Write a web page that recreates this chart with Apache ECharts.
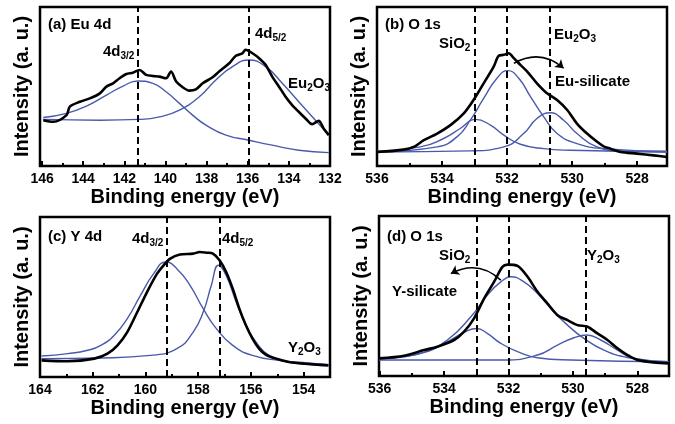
<!DOCTYPE html>
<html lang="en">
<head>
<meta charset="UTF-8" />
<title>XPS spectra</title>
<style>
  html, body { margin: 0; padding: 0; background: #fff; }
  #chart { width: 675px; height: 424px; }
</style>
</head>
<body>
<div id="chart"></div>
<script src="https://cdn.jsdelivr.net/npm/echarts@6/dist/echarts.min.js"></script>
<script>
// x ranges [min, max] (axes are reversed: high energy on the left)
var rangeA = [132, 146.1];
var rangeB = [527.08, 536];
var rangeC = [153, 164];
var rangeD = [527.02, 536.02];

// (a) Eu 4d
var aTotal = [[145.94,28.8],[145.45,27.8],[144.81,32.0],[144.65,37.3],[144.16,40.4],[143.68,42.5],[143.19,45.7],[142.87,49.9],[142.55,52.0],[142.23,55.2],[141.90,57.9],[141.58,58.7],[141.26,60.4],[140.94,57.3],[140.61,56.6],[140.29,56.2],[139.97,55.2],[139.73,59.4],[139.48,53.1],[139.16,49.5],[138.84,47.4],[138.52,48.2],[138.19,52.0],[137.71,55.8],[137.39,59.4],[136.90,64.6],[136.58,69.3],[136.26,70.9],[136.10,73.1],[135.77,70.9],[135.45,67.8],[135.13,63.6],[134.81,56.2],[134.48,49.9],[134.16,43.6],[133.84,38.3],[133.52,34.1],[133.19,29.9],[132.87,26.3],[132.55,28.4],[132.31,23.6],[132.06,19.4]];
var aFit1 = [[145.94,30.5],[144.81,33.1],[143.84,37.7],[142.87,44.6],[142.06,50.3],[141.34,53.5],[140.61,52.0],[139.97,46.7],[139.32,39.4],[138.68,32.0],[138.03,25.7],[137.06,19.4],[135.94,16.2],[134.81,13.1],[133.52,9.9],[132.06,8.4]];
var aFit2 = [[145.94,29.3],[143.19,28.8],[141.26,29.3],[140.29,30.9],[139.32,35.2],[138.35,43.6],[137.55,54.1],[136.74,62.5],[135.94,66.7],[135.13,62.5],[134.32,52.0],[133.52,40.4],[132.71,28.8],[132.06,19.4]];
var aPeaks = [141.34, 135.95];

// (b) O 1s, Eu
var bTotal = [[536.00,8.8],[535.18,10.3],[534.87,12.0],[534.56,16.2],[534.15,20.4],[533.74,25.7],[533.33,33.1],[533.03,41.5],[532.72,52.0],[532.41,62.5],[532.26,69.3],[532.10,69.9],[531.95,70.9],[531.79,67.8],[531.59,63.6],[531.38,59.4],[531.08,52.0],[530.77,45.7],[530.46,41.5],[530.15,35.2],[529.85,26.7],[529.54,20.4],[529.23,15.2],[529.03,12.4],[528.82,10.9],[528.51,8.8],[528.00,7.8],[527.49,6.7],[527.08,5.7]];
var bSiO2 = [[536.00,9.5],[534.67,12.0],[533.95,17.3],[533.44,23.6],[532.97,29.3],[532.51,25.7],[532.10,19.4],[531.59,13.7],[530.87,10.9],[530.05,9.9],[527.08,8.8]];
var bSilicate = [[536.00,8.8],[534.15,12.0],[533.54,18.3],[533.13,28.8],[532.72,42.5],[532.31,55.2],[531.98,60.0],[531.64,55.2],[531.28,43.6],[530.87,30.9],[530.46,20.4],[529.85,14.1],[529.03,10.9],[527.08,9.3]];
var bOxide = [[536.00,8.8],[533.13,9.5],[532.10,12.0],[531.49,20.4],[531.08,29.9],[530.67,33.5],[530.26,28.8],[529.85,20.4],[529.23,12.0],[528.51,9.5],[527.08,8.8]];
var bPeaks = [533.0, 532.0, 530.7];
var bArrow = [[531.79, 64.6], [530.26, 61.5]];

// (c) Y 4d
var cTotal = [[163.94,10.4],[162.94,9.8],[161.94,11.5],[161.44,14.6],[161.06,19.8],[160.69,28.1],[160.31,40.6],[159.94,53.1],[159.56,64.6],[159.31,69.8],[159.06,74.0],[158.69,76.5],[158.19,77.1],[157.94,78.1],[157.69,77.7],[157.44,77.1],[157.19,72.9],[156.94,65.6],[156.69,55.2],[156.44,42.7],[156.19,32.3],[155.94,24.0],[155.69,17.7],[155.44,14.0],[155.06,11.5],[154.56,9.4],[153.94,8.3],[153.06,7.3]];
var cFit1 = [[163.94,13.1],[162.94,14.6],[162.19,16.7],[161.69,19.8],[161.19,26.0],[160.69,36.5],[160.19,51.0],[159.69,64.6],[159.23,71.9],[158.81,67.7],[158.31,57.3],[157.81,42.7],[157.31,30.2],[156.69,19.8],[155.94,13.5],[154.94,10.4],[153.94,9.0],[153.06,7.7]];
var cFit2 = [[163.94,11.5],[161.69,11.9],[159.81,13.5],[158.81,17.7],[158.19,28.1],[157.81,40.6],[157.50,57.3],[157.23,69.8],[156.94,63.5],[156.56,46.9],[156.19,32.3],[155.81,21.9],[155.31,13.5],[154.56,9.4],[153.06,6.9]];
var cPeaks = [159.2, 157.2];

// (d) O 1s, Y
var dTotal = [[536.02,11.0],[535.24,12.7],[534.62,16.2],[534.21,18.3],[533.69,22.5],[533.38,27.7],[533.07,36.0],[532.76,48.4],[532.45,58.8],[532.19,68.2],[532.03,69.6],[531.72,68.8],[531.41,62.0],[531.10,52.6],[530.79,45.3],[530.48,38.0],[530.17,34.9],[529.86,31.8],[529.55,30.8],[529.24,26.6],[528.93,22.5],[528.62,17.3],[528.31,13.1],[528.00,10.0],[527.49,8.5],[527.02,7.9]];
var dSiO2 = [[536.02,11.0],[535.24,12.1],[534.52,15.6],[533.90,21.4],[533.38,27.2],[532.99,29.7],[532.66,26.6],[532.24,20.4],[531.72,15.2],[531.10,11.4],[530.07,10.0],[527.02,8.9]];
var dSilicate = [[536.02,10.6],[534.72,14.1],[533.90,22.5],[533.17,37.0],[532.66,50.5],[532.24,58.8],[531.92,62.0],[531.52,58.8],[531.10,51.6],[530.69,42.2],[530.17,31.8],[529.66,23.5],[529.04,16.2],[528.31,11.6],[527.02,8.9]];
var dOxide = [[536.02,10.0],[532.14,10.0],[531.10,13.1],[530.48,19.3],[529.97,23.9],[529.57,25.6],[529.14,22.5],[528.62,16.2],[528.11,11.0],[527.02,8.5]];
var dPeaks = [533.0, 532.0, 529.6];
var dArrow = [[532.24, 59.9], [533.79, 64.0]];

var FONT = 'Liberation Sans, Arial, sans-serif';
var BLUE = '#4a5aab';

var chart = echarts.init(document.getElementById('chart'));

var grids = [
  { left: 40, top: 7, width: 290, height: 159 },
  { left: 377, top: 7, width: 290, height: 159 },
  { left: 40, top: 217, width: 290, height: 160 },
  { left: 379, top: 216, width: 290, height: 160 }
];
grids.forEach(function (g) {
  g.show = true;
  g.borderColor = '#000';
  g.borderWidth = 2.5;
});

function xAxis(i, range, interval) {
  var ax = {
    type: 'value', gridIndex: i, inverse: true,
    min: range[0], max: range[1],
    name: 'Binding energy (eV)', nameLocation: 'middle', nameGap: 21,
    nameTextStyle: { fontFamily: FONT, fontWeight: 'bold', fontSize: 20, color: '#000' },
    axisLine: { show: false },
    axisTick: { show: true, inside: true, length: 5, lineStyle: { color: '#000', width: 2 } },
    minorTick: { show: true, splitNumber: 2, length: 3, lineStyle: { color: '#000', width: 2 } },
    splitLine: { show: false },
    axisLabel: {
      margin: 6, fontFamily: FONT, fontWeight: 'bold', fontSize: 14, color: '#000',
      formatter: function (v) {
        var r = Math.round(v);
        return (Math.abs(v - r) < 1e-6 && r % 2 === 0) ? String(r) : '';
      }
    }
  };
  if (interval) ax.interval = interval;
  return ax;
}

function yAxis(i) {
  return {
    type: 'value', gridIndex: i, min: 0, max: 100,
    name: 'Intensity (a. u.)', nameLocation: 'middle', nameGap: 8, nameRotate: 90,
    nameTextStyle: { fontFamily: FONT, fontWeight: 'bold', fontSize: 20, color: '#000' },
    axisLine: { show: false }, axisTick: { show: false },
    axisLabel: { show: false }, splitLine: { show: false }
  };
}

function total(i, data, peaks) {
  return {
    type: 'line', xAxisIndex: i, yAxisIndex: i, data: data,
    showSymbol: false, smooth: 0.3, silent: true,
    lineStyle: { color: '#000', width: 2.6 }, z: 3,
    markLine: {
      silent: true, symbol: ['none', 'none'], label: { show: false },
      lineStyle: { color: '#000', type: [7, 4], width: 2 },
      data: peaks.map(function (p) { return { xAxis: p }; })
    }
  };
}

function fit(i, data) {
  return {
    type: 'line', xAxisIndex: i, yAxisIndex: i, data: data,
    showSymbol: false, smooth: true, silent: true,
    lineStyle: { color: BLUE, width: 1.4 }, z: 2
  };
}

function arrow(i, coords, curve) {
  return {
    type: 'lines', coordinateSystem: 'cartesian2d', xAxisIndex: i, yAxisIndex: i,
    symbol: ['none', 'arrow'], symbolSize: 8, silent: true,
    lineStyle: { color: '#000', width: 1.5, curveness: curve, opacity: 1 },
    data: [{ coords: coords }]
  };
}

var T = { fontFamily: FONT, fontWeight: 'bold', fontSize: 15, fill: '#000' };
var rich = {
  m: { fontFamily: FONT, fontWeight: 'bold', fontSize: 15, color: '#000', lineHeight: 18 },
  s: { fontFamily: FONT, fontWeight: 'bold', fontSize: 10, color: '#000', lineHeight: 18, verticalAlign: 'bottom', padding: [7, 0, 0, 0] }
};
function label(x, y, text) {
  return {
    type: 'text', x: x, y: y, z: 10,
    style: Object.assign({ text: text, rich: rich, verticalAlign: 'middle' }, T)
  };
}

var option = {
  animation: false,
  backgroundColor: '#fff',
  grid: grids,
  xAxis: [xAxis(0, rangeA, 2), xAxis(1, rangeB), xAxis(2, rangeC), xAxis(3, rangeD)],
  yAxis: [yAxis(0), yAxis(1), yAxis(2), yAxis(3)],
  series: [
    total(0, aTotal, aPeaks), fit(0, aFit1), fit(0, aFit2),
    total(1, bTotal, bPeaks), fit(1, bSiO2), fit(1, bSilicate), fit(1, bOxide),
    arrow(1, bArrow, 0.35),
    total(2, cTotal, cPeaks), fit(2, cFit1), fit(2, cFit2),
    total(3, dTotal, dPeaks), fit(3, dSiO2), fit(3, dSilicate), fit(3, dOxide),
    arrow(3, dArrow, -0.35)
  ],
  graphic: [
    label(48, 25, '{m|(a) Eu 4d}'),
    label(103, 52, '{m|4d}{s|3/2}'),
    label(255, 34, '{m|4d}{s|5/2}'),
    label(288, 84, '{m|Eu}{s|2}{m|O}{s|3}'),
    label(385, 25, '{m|(b) O 1s}'),
    label(439, 44, '{m|SiO}{s|2}'),
    label(554, 35, '{m|Eu}{s|2}{m|O}{s|3}'),
    label(555, 82, '{m|Eu-silicate}'),
    label(48, 237, '{m|(c) Y 4d}'),
    label(132, 239, '{m|4d}{s|3/2}'),
    label(222, 239, '{m|4d}{s|5/2}'),
    label(288, 348, '{m|Y}{s|2}{m|O}{s|3}'),
    label(387, 237, '{m|(d) O 1s}'),
    label(439, 256, '{m|SiO}{s|2}'),
    label(587, 256, '{m|Y}{s|2}{m|O}{s|3}'),
    label(392, 292, '{m|Y-silicate}')
  ]
};

chart.setOption(option);
</script>
</body>
</html>
